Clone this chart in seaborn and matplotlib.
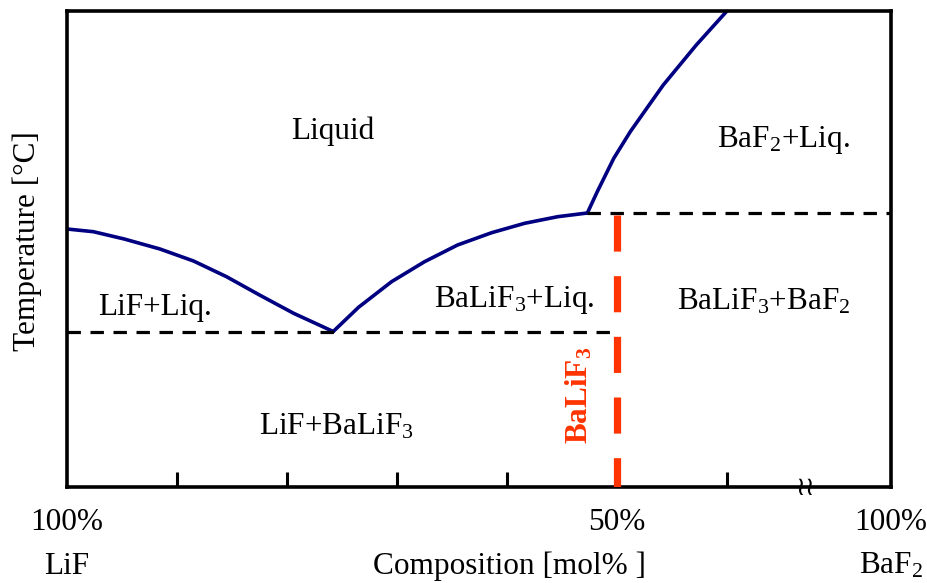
import matplotlib
matplotlib.use("Agg")
import matplotlib.pyplot as plt
import seaborn as sns

# composition: mol% BaF2 (0 = pure LiF); temperature in arbitrary units (no scale shown)
lif_liq_x = [0.0, 2.4, 5.2, 8.45, 11.5, 14.5, 17.5, 20.6, 24.2]
lif_liq_t = [258, 255.3, 248, 238, 226, 210.3, 192, 173.7, 155.5]

balif3_liq_x = [24.2, 26.5, 29.5, 32.5, 35.5, 38.6, 41.6, 44.6, 47.3]
balif3_liq_t = [155.5, 179.7, 205.3, 225.3, 242, 254.3, 263.7, 270.3, 274]

baf2_liq_x = [47.3, 48.2, 49.7, 51.2, 52.7, 54.2, 55.7, 57.2, 58.7, 59.8, 60.3]
baf2_liq_t = [274, 295.3, 328.7, 355.3, 378.7, 402, 422, 442, 460.3, 473.7, 480]

eutectic_t = 155.5
peritectic_x = 47.3
peritectic_t = 274
compound_x = 50.0          # BaLiF3
x_right = 74.9             # 100% BaF2 (after the axis break)
x_break = 67.1
t_top = 476

tick_pos = [10, 20, 30, 40, 50, 60]

regions = [
    ("Liquid", 24.2, 356),
    ("BaF$_2$+Liq.", 65.1, 347),
    ("LiF+Liq.", 8.0, 180),
    ("BaLiF$_3$+Liq.", 40.7, 187),
    ("BaLiF$_3$+BaF$_2$", 63.3, 185),
    ("LiF+BaLiF$_3$", 24.5, 60),
]

sns.set_style("white")
plt.rcParams['font.family'] = ['Liberation Serif', 'DejaVu Serif']
plt.rcParams['mathtext.default'] = 'regular'
plt.rcParams['text.color'] = 'black'

navy = '#000080'
red = '#ff3300'
fs = 22.5

fig = plt.figure(figsize=(9.27, 5.83), dpi=100)
ax = fig.add_axes([67 / 927, 96 / 583, 824 / 927, 476 / 583])

# liquidus curves
for xs, ts in [(lif_liq_x, lif_liq_t), (balif3_liq_x, balif3_liq_t), (baf2_liq_x, baf2_liq_t)]:
    sns.lineplot(x=xs, y=ts, sort=False, estimator=None, color=navy, linewidth=2.6, ax=ax)

# eutectic & peritectic lines
ax.plot([0, compound_x], [eutectic_t, eutectic_t], color='black', lw=2.3,
        linestyle=(0, (4.2, 3.0)), zorder=3)
ax.plot([peritectic_x, x_right], [peritectic_t, peritectic_t], color='black', lw=2.3,
        linestyle=(0, (4.2, 3.0)), zorder=3)
# BaLiF3 compound line
ax.plot([compound_x, compound_x], [peritectic_t - 2, 0], color=red, lw=5.2,
        linestyle=(0, (5.0, 3.4)), zorder=4, solid_capstyle='butt')

ax.set_xlim(0, x_right)
ax.set_ylim(0, t_top)

for sp in ax.spines.values():
    sp.set_linewidth(2.6)
    sp.set_color('black')

ax.set_xticks(tick_pos)
ax.set_yticks([])
ax.tick_params(axis='x', direction='in', length=11, width=2.2, colors='black',
               labelbottom=False, bottom=True)

for txt, x, y in regions:
    ax.text(x, y, txt, fontsize=fs, ha='center', va='center')

ax.text(46.6, 92, "BaLiF$_3$", fontsize=fs, color=red, fontweight='bold',
        rotation=90, ha='center', va='center')

# axis break mark
ax.text(x_break, -1, "\u2240\u2240", fontsize=19, family='DejaVu Sans',
        ha='center', va='center', clip_on=False)

# bottom labels
ax.text(0, -35, "100%", fontsize=fs, ha='center', va='center', clip_on=False)
ax.text(compound_x, -35, "50%", fontsize=fs, ha='center', va='center', clip_on=False)
ax.text(x_right, -35, "100%", fontsize=fs, ha='center', va='center', clip_on=False)
ax.text(0, -79, "LiF", fontsize=fs, ha='center', va='center', clip_on=False)
ax.text(40.2, -79, "Composition [mol% ]", fontsize=fs, ha='center', va='center', clip_on=False)
ax.text(x_right, -79, "BaF$_2$", fontsize=fs, ha='center', va='center', clip_on=False)

fig.text(27 / 927, 1 - 241 / 583, "Temperature [\u00b0C]", fontsize=fs,
         rotation=90, ha='center', va='center')

fig.savefig("out.png", dpi=100)
